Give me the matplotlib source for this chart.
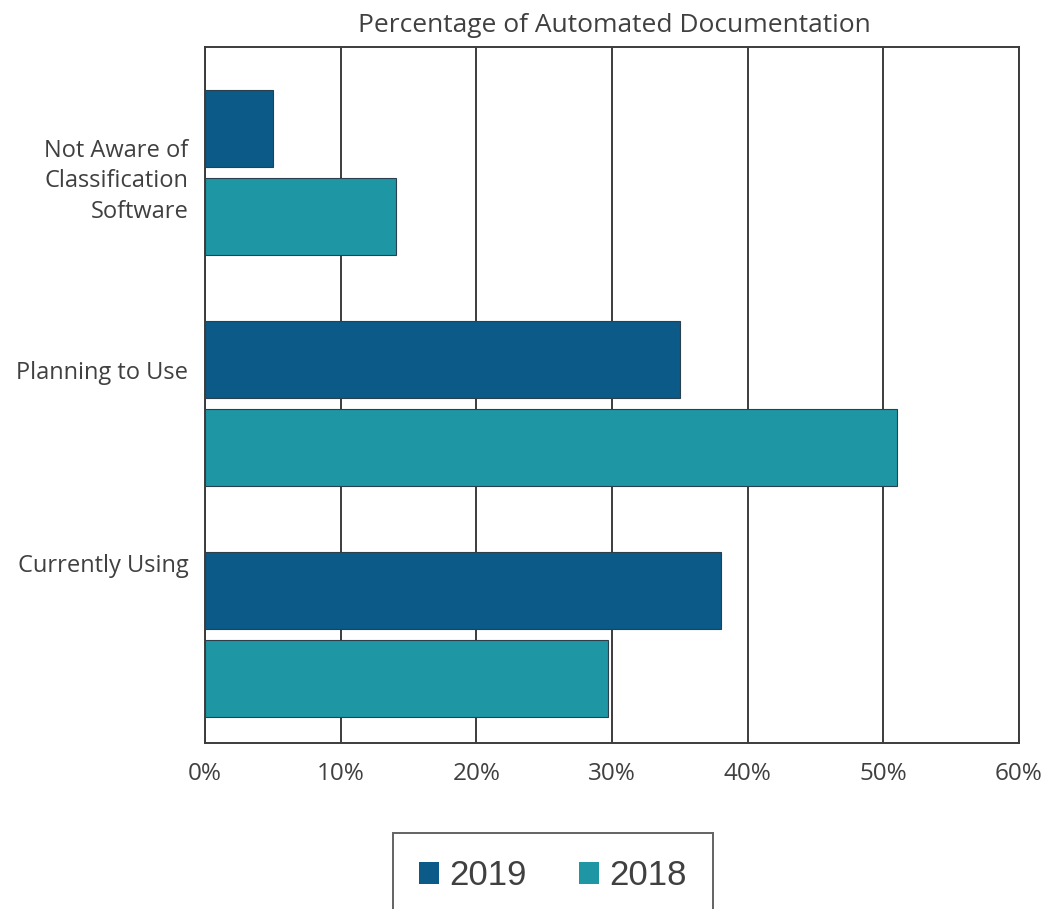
import matplotlib
matplotlib.use('Agg')
import matplotlib.pyplot as plt
import matplotlib.ticker as mticker
import numpy as np

# data
categories = ['Currently Using', 'Planning to Use', 'Not Aware of\nClassification\nSoftware']
vals_2019 = [38.0, 35.0, 5.0]
vals_2018 = [29.7, 51.0, 14.1]
series_names = ['2019', '2018']
xticks = [0, 10, 20, 30, 40, 50, 60]

c2019 = '#0b5a87'
c2018 = '#1e96a3'

# the category labels sit a little above the group centre in the original
label_shift = [0.31, 0.145, -0.013]

fig = plt.figure(figsize=(10.47, 9.09), dpi=100)
ax = fig.add_axes([205/1047, 1 - 743/909, (1019 - 205)/1047, (743 - 47)/909])

y = np.arange(len(categories))
h = 0.333
off = 0.19
b19 = ax.barh(y + off, vals_2019, height=h, color=c2019, edgecolor='#2b3f4c', linewidth=0.8,
              label=series_names[0], zorder=3)
b18 = ax.barh(y - off, vals_2018, height=h, color=c2018, edgecolor='#2b3f4c', linewidth=0.8,
              label=series_names[1], zorder=3)

ax.set_xlim(0, 60)
ax.set_ylim(-0.469, 2.542)
ax.set_xticks(xticks)
ax.xaxis.set_major_formatter(mticker.PercentFormatter(decimals=0))
ax.set_yticks(y + np.array(label_shift))
ax.set_yticklabels(categories, ha='right', multialignment='right', linespacing=1.35)
ax.tick_params(axis='both', length=0, labelcolor='#404040', labelfontfamily='Open Sans')
ax.tick_params(axis='x', pad=14, labelsize=17.5)
ax.tick_params(axis='y', pad=12, labelsize=17)
ax.grid(axis='x', color='#3c3c3c', linewidth=1.4, zorder=0)
for s in ax.spines.values():
    s.set_color('#3c3c3c')
    s.set_linewidth(1.4)

fig.text(614/1047, 1 - 26/909, 'Percentage of Automated Documentation', ha='center', va='center',
         fontsize=19, color='#404040', family='Open Sans')

leg = fig.legend(handles=[b19, b18], labels=series_names, loc='upper left',
                 bbox_to_anchor=(393/1047, 1 - 833/909), ncol=2,
                 prop={'family': 'Liberation Sans', 'size': 25},
                 handlelength=0.58, handleheight=0.58, handletextpad=0.3,
                 columnspacing=1.5, borderpad=0.75, borderaxespad=0, fancybox=False,
                 frameon=True)
for t in leg.get_texts():
    t.set_color('#404040')
leg.get_frame().set_edgecolor('#3c3c3c')
leg.get_frame().set_linewidth(1.4)
for hd in leg.legend_handles:
    hd.set_edgecolor('none')

fig.savefig('out.png', dpi=100)
plt.close()
